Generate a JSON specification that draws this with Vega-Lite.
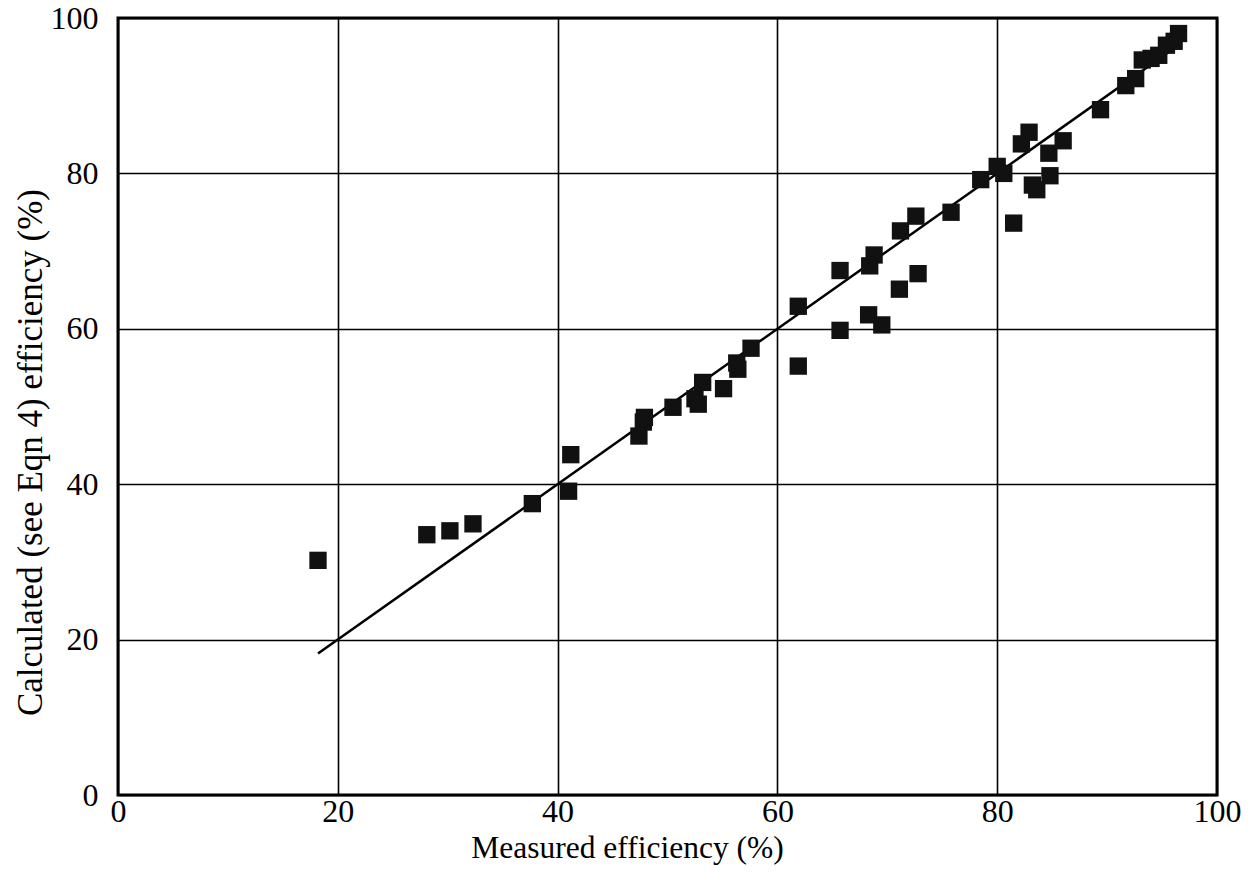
{
  "$schema": "https://vega.github.io/schema/vega-lite/v6.json",
  "width": 1099,
  "height": 777,
  "autosize": "none",
  "padding": {"left": 118, "top": 18, "right": 36, "bottom": 84},
  "background": "white",
  "config": {
    "view": {"stroke": "black", "strokeWidth": 3},
    "axis": {
      "labelFont": "Liberation Serif",
      "labelFontSize": 32,
      "labelColor": "black",
      "labelFlush": false,
      "titleFont": "Liberation Serif",
      "titleFontSize": 31.5,
      "titleFontWeight": "normal",
      "titleColor": "black",
      "ticks": false,
      "domain": false,
      "grid": true,
      "gridColor": "black",
      "gridWidth": 1.6,
      "gridOpacity": 1
    }
  },
  "datasets": {
    "points": [
      {"measured": 18.2, "calculated": 30.2},
      {"measured": 28.1, "calculated": 33.5},
      {"measured": 30.2, "calculated": 34.0},
      {"measured": 32.3, "calculated": 34.9},
      {"measured": 37.7, "calculated": 37.5},
      {"measured": 41.0, "calculated": 39.1},
      {"measured": 41.2, "calculated": 43.8},
      {"measured": 47.4, "calculated": 46.2},
      {"measured": 47.8, "calculated": 48.0},
      {"measured": 47.9, "calculated": 48.6},
      {"measured": 50.5, "calculated": 49.9},
      {"measured": 52.5, "calculated": 51.0},
      {"measured": 52.8, "calculated": 50.3},
      {"measured": 53.2, "calculated": 53.1},
      {"measured": 55.1, "calculated": 52.3},
      {"measured": 56.3, "calculated": 55.6},
      {"measured": 56.4, "calculated": 54.8},
      {"measured": 57.6, "calculated": 57.5},
      {"measured": 61.9, "calculated": 62.9},
      {"measured": 61.9, "calculated": 55.2},
      {"measured": 65.7, "calculated": 59.8},
      {"measured": 65.7, "calculated": 67.5},
      {"measured": 68.3, "calculated": 61.8},
      {"measured": 68.4, "calculated": 68.1},
      {"measured": 68.8, "calculated": 69.5},
      {"measured": 69.5, "calculated": 60.5},
      {"measured": 71.1, "calculated": 65.1},
      {"measured": 71.2, "calculated": 72.6},
      {"measured": 72.6, "calculated": 74.5},
      {"measured": 72.8, "calculated": 67.1},
      {"measured": 75.8, "calculated": 75.0},
      {"measured": 78.5, "calculated": 79.2},
      {"measured": 80.0, "calculated": 80.9},
      {"measured": 80.6, "calculated": 80.0},
      {"measured": 81.5, "calculated": 73.6},
      {"measured": 82.2, "calculated": 83.8},
      {"measured": 82.9, "calculated": 85.3},
      {"measured": 83.2, "calculated": 78.5},
      {"measured": 83.6, "calculated": 77.9},
      {"measured": 84.7, "calculated": 82.6},
      {"measured": 84.8, "calculated": 79.7},
      {"measured": 86.0, "calculated": 84.2},
      {"measured": 89.4, "calculated": 88.2},
      {"measured": 91.7, "calculated": 91.3},
      {"measured": 92.6, "calculated": 92.2},
      {"measured": 93.2, "calculated": 94.6},
      {"measured": 94.0, "calculated": 94.8},
      {"measured": 94.7, "calculated": 95.2},
      {"measured": 95.4, "calculated": 96.5},
      {"measured": 96.1, "calculated": 97.0},
      {"measured": 96.5, "calculated": 98.0}
    ],
    "fit": [
      {"measured": 18.2, "calculated": 18.2},
      {"measured": 96.0, "calculated": 96.0}
    ]
  },
  "layer": [
    {
      "data": {"name": "fit"},
      "mark": {"type": "line", "color": "black", "strokeWidth": 2.5},
      "encoding": {
        "x": {"field": "measured", "type": "quantitative"},
        "y": {"field": "calculated", "type": "quantitative"}
      }
    },
    {
      "data": {"name": "points"},
      "mark": {"type": "point", "shape": "square", "filled": true, "size": 300, "color": "#111111", "opacity": 1},
      "encoding": {
        "x": {
          "field": "measured",
          "type": "quantitative",
          "scale": {"domain": [0, 100], "nice": false},
          "axis": {
            "values": [0, 20, 40, 60, 80, 100],
            "title": "Measured efficiency (%)",
            "labelPadding": 1,
            "titlePadding": 5,
            "titleX": 509
          }
        },
        "y": {
          "field": "calculated",
          "type": "quantitative",
          "scale": {"domain": [0, 100], "nice": false},
          "axis": {
            "values": [0, 20, 40, 60, 80, 100],
            "title": "Calculated (see Eqn 4) efficiency (%)",
            "titleFontSize": 35,
            "labelPadding": 20,
            "titleX": -88,
            "titleY": 434,
            "titleBaseline": "middle"
          }
        }
      }
    }
  ]
}
